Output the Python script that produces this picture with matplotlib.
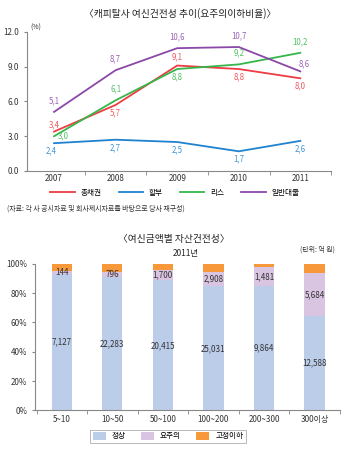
import numpy as np
import matplotlib
matplotlib.use("Agg")
import matplotlib.pyplot as plt
from matplotlib.patches import Patch
from matplotlib.lines import Line2D

plt.rcParams['font.family'] = ['Noto Sans CJK KR', 'DejaVu Sans']

# top chart data (요주의이하비율, %)
years = [2007, 2008, 2009, 2010, 2011]
total = [3.4, 5.7, 9.1, 8.8, 8.0]      # 총채권
install = [2.4, 2.7, 2.5, 1.7, 2.6]    # 할부
lease = [3.0, 6.1, 8.8, 9.2, 10.2]     # 리스
loan = [5.1, 8.7, 10.6, 10.7, 8.6]     # 일반대출
series_names = ['총채권', '할부', '리스', '일반대출']

# bottom chart data (억 원)
size_cats = ['5~10', '10~50', '50~100', '100~200', '200~300', '300이상']
normal = [7127, 22283, 20415, 25031, 9864, 12588]      # 정상
caution = [144, 796, 1700, 2908, 1481, 5684]           # 요주의
substd = [390, 1410, 930, 1680, 260, 1240]             # 고정이하 (estimated)
stack_names = ['정상', '요주의', '고정이하']

# styling
c_red = '#ee3b44'
c_blue = '#1f82cf'
c_green = '#35b64a'
c_purple = '#8b48a8'
c_bar = ['#bccde9', '#d9c4e1', '#f7993a']
axis_col = '#888888'
txt_col = '#333333'

fig = plt.figure(figsize=(3.5, 4.5), dpi=100)

# ---------------- top line chart ----------------
ax = fig.add_axes([0.077, 0.62, 0.869, 0.309])
lines = [(total, c_red), (install, c_blue), (lease, c_green), (loan, c_purple)]
for vals, col in lines:
    ax.plot(years, vals, color=col, lw=1.3)

# label offsets (points)
offs = {
    0: [(0, 2), (0, -9), (0, 3), (0, -9), (0, -9)],
    1: [(-2, -9), (0, -9), (0, -9), (0, -9), (0, -9)],
    2: [(7, -3), (0, 5), (0, -9), (0, 5), (0, 5)],
    3: [(0, 5), (0, 5), (0, 5), (0, 5), (3, 2)],
}
for i, (vals, col) in enumerate(lines):
    for j, (x, v) in enumerate(zip(years, vals)):
        dx, dy = offs[i][j]
        ax.annotate(f'{v:.1f}'.replace('.', ','), (x, v), xytext=(dx, dy),
                    textcoords='offset points', ha='center', va='bottom',
                    fontsize=5.7, color=col, alpha=0.85)

ax.set_xlim(2006.56, 2011.5)
ax.set_ylim(0, 12)
ax.set_yticks([0, 3, 6, 9, 12])
ax.set_yticklabels(['0.0', '3.0', '6.0', '9.0', '12.0'])
ax.set_xticks(years)
ax.set_xticks([2007.5, 2008.5, 2009.5, 2010.5, 2011.5], minor=True)
ax.tick_params(axis='x', which='major', length=0, labelsize=5.8, colors=txt_col, pad=2)
ax.tick_params(axis='x', which='minor', length=3, color=axis_col, direction='out')
ax.tick_params(axis='y', length=2, labelsize=5.8, colors=txt_col, color=axis_col)
for s in ['top', 'right']:
    ax.spines[s].set_visible(False)
for s in ['left', 'bottom']:
    ax.spines[s].set_color(axis_col)
    ax.spines[s].set_linewidth(0.8)
ax.text(0.01, 1.02, '(%)', transform=ax.transAxes, fontsize=5, color=txt_col)

fig.text(0.514, 0.969, '〈캐피탈사 여신건전성 추이(요주의이하비율)〉', ha='center', va='center',
         fontsize=7, color='#222222')

handles = [Line2D([0], [0], color=c, lw=1.3) for _, c in lines]
fig.legend(handles, series_names, loc='center', bbox_to_anchor=(0.5, 0.571), ncol=4,
           frameon=False, fontsize=5.5, handlelength=3.2, columnspacing=2.2,
           handletextpad=0.8)
fig.text(0.02, 0.537, '(자료: 각 사 공시자료 및 회사제시자료를 바탕으로 당사 재구성)',
         fontsize=5, color=txt_col, va='center')

# ---------------- bottom stacked bar chart ----------------
bx = fig.add_axes([0.1, 0.088, 0.871, 0.326])
data = np.array([normal, caution, substd], dtype=float)
pct = data / data.sum(axis=0) * 100
x = np.arange(len(size_cats))
bottom = np.zeros(len(size_cats))
for k in range(3):
    bx.bar(x, pct[k], 0.4, bottom=bottom, color=c_bar[k], label=stack_names[k])
    if k < 2:
        for j in range(len(x)):
            bx.text(x[j], bottom[j] + pct[k][j] / 2, f'{int(data[k][j]):,}',
                    ha='center', va='center', fontsize=5.8, color=txt_col)
    bottom += pct[k]

bx.set_xlim(-0.53, 5.49)
bx.set_ylim(0, 100)
bx.set_yticks([0, 20, 40, 60, 80, 100])
bx.set_yticklabels(['0%', '20%', '40%', '60%', '80%', '100%'])
bx.set_xticks(x)
bx.set_xticklabels(size_cats)
bx.set_xticks(np.arange(-0.5, 5.6, 1.0), minor=True)
bx.tick_params(axis='x', which='major', length=0, labelsize=5.8, colors=txt_col, pad=3)
bx.tick_params(axis='x', which='minor', length=3, color=axis_col, direction='out')
bx.tick_params(axis='y', length=2, labelsize=5.8, colors=txt_col, color=axis_col)
for s in ['top', 'right']:
    bx.spines[s].set_visible(False)
for s in ['left', 'bottom']:
    bx.spines[s].set_color(axis_col)
    bx.spines[s].set_linewidth(0.8)

fig.text(0.497, 0.468, '〈여신금액별 자산건전성〉', ha='center', va='center',
         fontsize=7, color='#222222')
fig.text(0.531, 0.436, '2011년', ha='center', va='center', fontsize=6, color='#222222')
fig.text(0.908, 0.446, '(단위: 억 원)', ha='center', va='center', fontsize=5, color=txt_col)

phandles = [Patch(facecolor=c) for c in c_bar]
leg = fig.legend(phandles, stack_names, loc='center', bbox_to_anchor=(0.48, 0.031), ncol=3,
                 frameon=True, fontsize=5.5, handlelength=1.7, handleheight=1.2,
                 columnspacing=2.0, handletextpad=0.8, fancybox=False, borderpad=0.3,
                 borderaxespad=0)
leg.get_frame().set_edgecolor('#999999')
leg.get_frame().set_linewidth(0.6)

fig.savefig('out.png', dpi=100)
